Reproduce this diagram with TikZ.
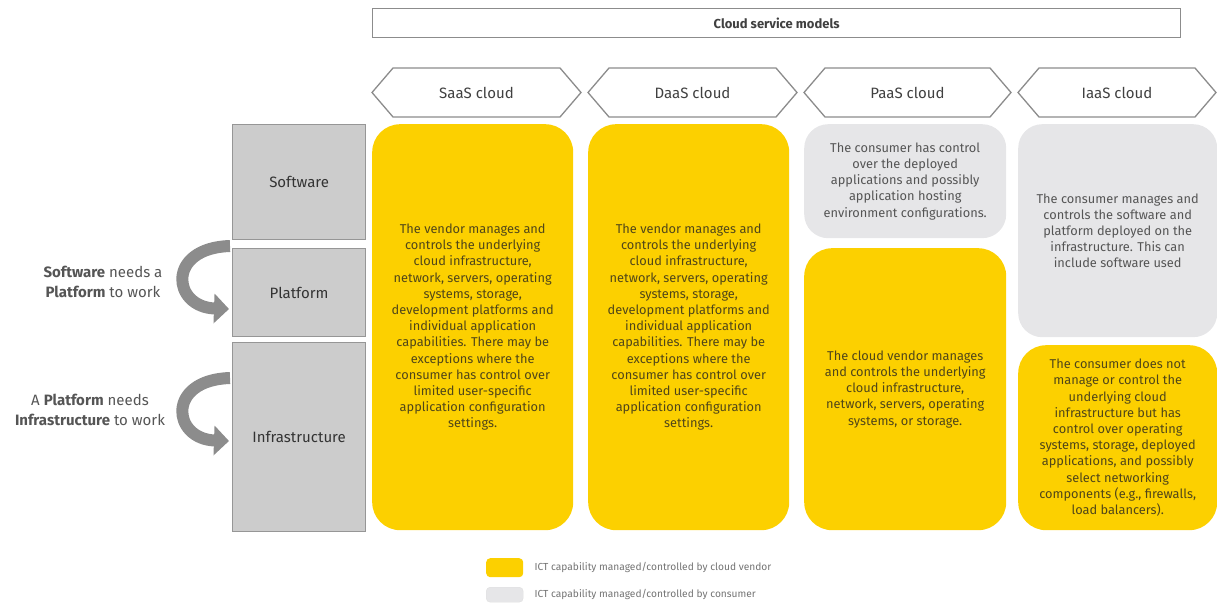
\documentclass[tikz,border=0pt]{standalone}
\usepackage{fontspec}
\setmainfont{Fira Sans}
\usetikzlibrary{arrows.meta}
\definecolor{eyyellow}{RGB}{252,208,0}
\definecolor{layergray}{RGB}{204,204,204}
\definecolor{layerborder}{RGB}{150,150,150}
\definecolor{consgray}{RGB}{230,230,232}
\definecolor{yeltext}{RGB}{80,70,25}
\definecolor{graytext}{RGB}{85,85,85}
\definecolor{arrowgray}{RGB}{140,140,140}
\definecolor{hexborder}{RGB}{140,140,140}
\begin{document}
\begin{tikzpicture}[x=1pt,y=-1pt,
  layer/.style={draw=layerborder, fill=layergray, line width=1.2pt, inner sep=0pt, anchor=north west,
    font=\fontsize{15}{18}\selectfont, text=black!80},
  vendor/.style={fill=eyyellow, rounded corners=28pt, inner sep=0pt, anchor=north west, align=center,
    font=\fontsize{12.8}{16.2}\selectfont, text=yeltext},
  consumer/.style={fill=consgray, rounded corners=24pt, inner sep=0pt, anchor=north west, align=center,
    font=\fontsize{12.8}{16.2}\selectfont, text=graytext},
  hexline/.style={draw=hexborder, fill=white, line width=1.3pt, line join=miter},
  hexlabel/.style={font=\fontsize{15}{18}\selectfont, text=black!75},
  sidelabel/.style={align=center, font=\fontsize{15}{20}\selectfont, text=graytext},
  flow/.style={draw=arrowgray, line width=12pt, -{Triangle[length=15pt,width=29pt]}},
  legtext/.style={anchor=west, font=\fontsize{10.2}{12}\selectfont, text=black!55}
]
\useasboundingbox (0,0) rectangle (1217,604);

% title
\node[draw=hexborder, line width=1.3pt, fill=white, minimum width=808, minimum height=29, anchor=north west,
  inner sep=0pt, font=\bfseries\fontsize{13}{15}\selectfont, text=black!75] (title) at (372,8) {Cloud service models};

% hexagon headers
\draw[hexline] (372,92.5) -- (393,68) -- (560,68) -- (581,92.5) -- (560,117) -- (393,117) -- cycle;
\node[hexlabel] (saash) at (476.5,92.5) {SaaS cloud};
\draw[hexline] (588,92.5) -- (609,68) -- (776,68) -- (797,92.5) -- (776,117) -- (609,117) -- cycle;
\node[hexlabel] (daash) at (692.5,92.5) {DaaS cloud};
\draw[hexline] (804,92.5) -- (825,68) -- (990,68) -- (1011,92.5) -- (990,117) -- (825,117) -- cycle;
\node[hexlabel] (paash) at (907.5,92.5) {PaaS cloud};
\draw[hexline] (1018,92.5) -- (1039,68) -- (1195,68) -- (1216,92.5) -- (1195,117) -- (1039,117) -- cycle;
\node[hexlabel] (iaash) at (1117,92.5) {IaaS cloud};

% layers
\node[layer, minimum width=133, minimum height=115] (software) at (232,124) {Software};
\node[layer, minimum width=133, minimum height=88] (platform) at (232,248) {Platform};
\node[layer, minimum width=133, minimum height=189] (infra) at (232,342) {Infrastructure};

% SaaS
\node[vendor, minimum width=201, minimum height=406] (saas) at (372,124) {The vendor manages and\\controls the underlying\\cloud infrastructure,\\network, servers, operating\\systems, storage,\\development platforms and\\individual application\\capabilities. There may be\\exceptions where the\\consumer has control over\\limited user-specific\\application configuration\\settings.};
% DaaS
\node[vendor, minimum width=201, minimum height=406] (daas) at (588,124) {The vendor manages and\\controls the underlying\\cloud infrastructure,\\network, servers, operating\\systems, storage,\\development platforms and\\individual application\\capabilities. There may be\\exceptions where the\\consumer has control over\\limited user-specific\\application configuration\\settings.};
% PaaS
\node[consumer, minimum width=202, minimum height=114] (paasc) at (804,124) {The consumer has control\\over the deployed\\applications and possibly\\application hosting\\environment configurations.};
\node[vendor, minimum width=202, minimum height=282] (paasv) at (804,248) {The cloud vendor manages\\and controls the underlying\\cloud infrastructure,\\network, servers, operating\\systems, or storage.};
% IaaS
\node[consumer, minimum width=199, minimum height=213] (iaasc) at (1018,124) {The consumer manages and\\controls the software and\\platform deployed on the\\infrastructure. This can\\include software used};
\node[vendor, minimum width=199, minimum height=185] (iaasv) at (1018,345) {The consumer does not\\manage or control the\\underlying cloud\\infrastructure but has\\control over operating\\systems, storage, deployed\\applications, and possibly\\select networking\\components (e.g., firewalls,\\load balancers).};

% side labels and arrows
\node[sidelabel] (need1) at (103,282) {\textbf{Software} needs a\\\textbf{Platform} to work};
\node[sidelabel] (need2) at (90,410) {A \textbf{Platform} needs\\\textbf{Infrastructure} to work};
\coordinate (a1s) at (230,246);
\coordinate (a1e) at (229,309);
\coordinate (a2s) at (230,378);
\coordinate (a2e) at (229,441);
\draw[flow] (a1s) .. controls (166,248) and (172,307) .. (a1e);
\draw[flow] (a2s) .. controls (166,380) and (172,439) .. (a2e);

% legend
\node[fill=eyyellow, rounded corners=4pt, minimum width=37, minimum height=19, anchor=north west, inner sep=0pt] (legv) at (486,558) {};
\node[legtext] (legvt) at (531,567.5) {ICT capability managed/controlled by cloud vendor};
\node[fill=consgray, draw=black!12, rounded corners=4pt, minimum width=37, minimum height=15, anchor=north west, inner sep=0pt] (legc) at (486,587) {};
\node[legtext] (legct) at (531,594.5) {ICT capability managed/controlled by consumer};
\end{tikzpicture}
\end{document}
